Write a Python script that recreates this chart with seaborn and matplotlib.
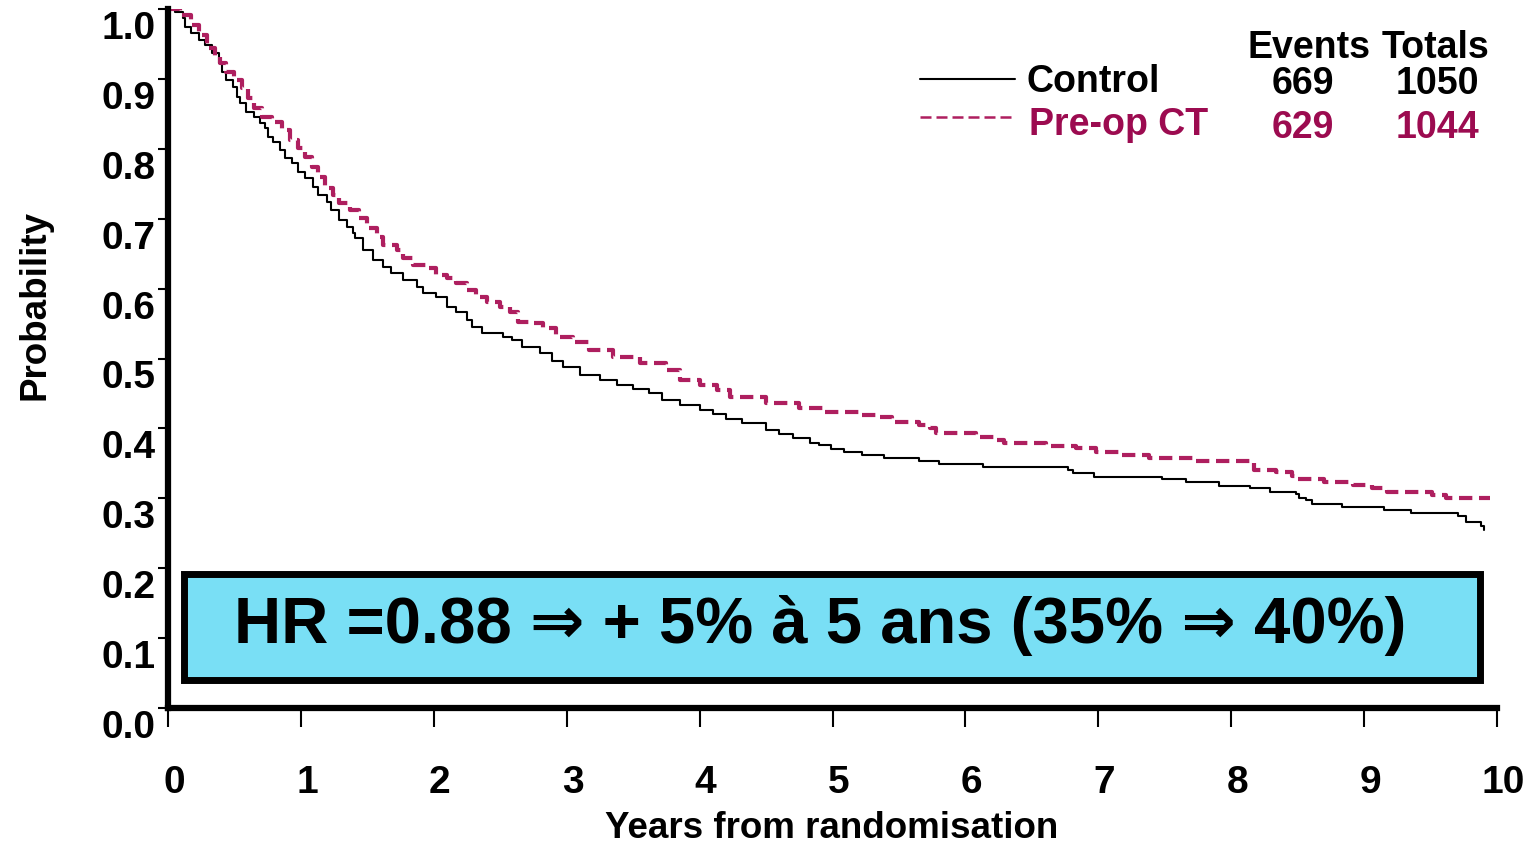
import matplotlib
matplotlib.use("Agg")
import matplotlib.pyplot as plt
import matplotlib.transforms as mtransforms
from matplotlib.patches import Rectangle
import pandas as pd
import seaborn as sns

# Kaplan-Meier estimates: time (years) and survival probability
control_t = [0.00, 0.05, 0.11, 0.13, 0.17, 0.23, 0.28, 0.33, 0.38, 0.41, 0.44, 0.49,
             0.52, 0.54, 0.59, 0.65, 0.69, 0.73, 0.75, 0.79, 0.84, 0.88, 0.93, 0.98,
             1.03, 1.09, 1.13, 1.20, 1.23, 1.29, 1.35, 1.39, 1.41, 1.47, 1.54, 1.62,
             1.68, 1.77, 1.87, 1.92, 2.02, 2.10, 2.17, 2.25, 2.29, 2.36, 2.52, 2.59,
             2.66, 2.80, 2.89, 2.97, 3.10, 3.25, 3.38, 3.50, 3.62, 3.72, 3.85, 4.00,
             4.10, 4.20, 4.32, 4.50, 4.60, 4.70, 4.83, 4.90, 4.99, 5.09, 5.22, 5.39,
             5.65, 5.80, 6.13, 6.77, 6.81, 6.97, 7.48, 7.66, 7.91, 8.14, 8.29, 8.49,
             8.51, 8.56, 8.61, 8.83, 9.15, 9.35, 9.71, 9.77, 9.88, 9.90]
control_s = [1.000, 0.996, 0.987, 0.974, 0.966, 0.956, 0.949, 0.937, 0.923, 0.910, 0.898, 0.888,
             0.874, 0.865, 0.853, 0.846, 0.837, 0.830, 0.817, 0.810, 0.798, 0.787, 0.780, 0.767,
             0.758, 0.745, 0.734, 0.724, 0.712, 0.698, 0.688, 0.680, 0.672, 0.655, 0.641, 0.631,
             0.622, 0.612, 0.602, 0.594, 0.588, 0.574, 0.567, 0.555, 0.545, 0.536, 0.531, 0.526,
             0.516, 0.508, 0.497, 0.488, 0.476, 0.469, 0.462, 0.456, 0.450, 0.441, 0.434, 0.426,
             0.420, 0.414, 0.408, 0.398, 0.392, 0.386, 0.379, 0.376, 0.371, 0.366, 0.362, 0.358,
             0.353, 0.349, 0.345, 0.341, 0.336, 0.331, 0.327, 0.323, 0.318, 0.315, 0.309, 0.306,
             0.300, 0.298, 0.292, 0.288, 0.283, 0.279, 0.275, 0.266, 0.260, 0.255]

preop_t = [0.00, 0.09, 0.17, 0.23, 0.29, 0.35, 0.39, 0.44, 0.50, 0.56, 0.60, 0.65,
           0.71, 0.78, 0.86, 0.92, 0.98, 1.03, 1.08, 1.13, 1.18, 1.24, 1.29, 1.37,
           1.44, 1.50, 1.57, 1.62, 1.72, 1.77, 1.84, 1.95, 2.02, 2.10, 2.17, 2.25,
           2.32, 2.40, 2.50, 2.57, 2.63, 2.74, 2.82, 2.92, 3.05, 3.17, 3.35, 3.55,
           3.75, 3.85, 4.00, 4.13, 4.23, 4.50, 4.75, 4.93, 5.20, 5.35, 5.45, 5.65,
           5.73, 5.78, 6.08, 6.23, 6.29, 6.61, 6.83, 6.98, 7.18, 7.38, 7.71, 8.17,
           8.34, 8.46, 8.49, 8.70, 8.92, 9.06, 9.17, 9.51, 9.62, 9.95]
preop_s = [1.000, 0.991, 0.977, 0.963, 0.944, 0.931, 0.923, 0.910, 0.898, 0.887, 0.873, 0.858,
           0.846, 0.838, 0.827, 0.813, 0.801, 0.788, 0.774, 0.760, 0.744, 0.734, 0.722, 0.712,
           0.701, 0.687, 0.674, 0.662, 0.655, 0.644, 0.634, 0.629, 0.619, 0.615, 0.608, 0.598,
           0.588, 0.581, 0.574, 0.567, 0.552, 0.551, 0.544, 0.531, 0.524, 0.512, 0.502, 0.494,
           0.484, 0.469, 0.462, 0.455, 0.445, 0.436, 0.429, 0.423, 0.419, 0.416, 0.409, 0.405,
           0.400, 0.393, 0.388, 0.383, 0.379, 0.375, 0.372, 0.366, 0.362, 0.358, 0.353, 0.340,
           0.337, 0.332, 0.328, 0.323, 0.319, 0.315, 0.309, 0.305, 0.300, 0.300]

groups = ["Control", "Pre-op CT"]
events = [669, 629]
totals = [1050, 1044]

x_ticks = list(range(0, 11))
y_ticks = [0.0, 0.1, 0.2, 0.3, 0.4, 0.5, 0.6, 0.7, 0.8, 0.9, 1.0]

hr_text = "HR =0.88 \u21d2 + 5% \u00e0 5 ans (35% \u21d2 40%)"

BLACK = "#000000"
MAGENTA_LINE = "#AE1F5F"
MAGENTA_TEXT = "#9C0B50"
BOX_FILL = "#79DFF5"

sns.set_theme(style="white")
plt.rcParams["font.family"] = ["Liberation Sans", "DejaVu Sans"]
plt.rcParams["font.weight"] = "bold"

DPI = 100
fig = plt.figure(figsize=(15.26, 8.43), dpi=DPI)
ax = fig.add_axes([168 / 1526, 135 / 843, 1329 / 1526, 699 / 843])

df_c = pd.DataFrame({"t": control_t, "S": control_s})
df_p = pd.DataFrame({"t": preop_t, "S": preop_s})

sns.lineplot(data=df_c, x="t", y="S", ax=ax, color=BLACK, lw=1.5,
             drawstyle="steps-post", estimator=None, sort=False)
sns.lineplot(data=df_p, x="t", y="S", ax=ax, color=MAGENTA_LINE, lw=3.0,
             linestyle=(0, (3.2, 1.6)), drawstyle="steps-post",
             estimator=None, sort=False)

ax.set_xlim(0, 10)
ax.set_ylim(0, 1)
ax.set_xticks(x_ticks)
ax.set_yticks(y_ticks)
ax.set_xticklabels([str(v) for v in x_ticks])
ax.set_yticklabels([f"{v:.1f}" for v in y_ticks])

for side in ["top", "right"]:
    ax.spines[side].set_visible(False)
for side in ["left", "bottom"]:
    ax.spines[side].set_linewidth(4.5)
    ax.spines[side].set_color(BLACK)

ax.tick_params(axis="y", which="major", direction="out", length=7, width=1.5,
               color=BLACK, pad=2, labelsize=28, labelcolor=BLACK, left=True)
ax.tick_params(axis="x", which="major", direction="out", length=14, width=1.5,
               color=BLACK, pad=27, labelsize=28, labelcolor=BLACK, bottom=True)
for lab in ax.get_xticklabels() + ax.get_yticklabels():
    lab.set_fontweight("bold")

# nudge tick labels: y labels sit a little below their ticks, x labels slightly right
y_off = mtransforms.ScaledTranslation(0, -16 / DPI, fig.dpi_scale_trans)
x_off = mtransforms.ScaledTranslation(6 / DPI, 0, fig.dpi_scale_trans)
for lab in ax.get_yticklabels():
    lab.set_transform(lab.get_transform() + y_off)
for lab in ax.get_xticklabels():
    lab.set_transform(lab.get_transform() + x_off)

ax.set_xlabel("Years from randomisation", fontsize=26.5, fontweight="bold",
              color=BLACK, va="center", ha="center")
ax.xaxis.set_label_coords(0.4996, -0.172)
ax.set_ylabel("Probability", fontsize=26.5, fontweight="bold", color=BLACK,
              va="center", ha="center", rotation=90)
ax.yaxis.set_label_coords(-0.100, 0.5765)


def fx(px):
    return (px - 168) / 1329


def fy(py):
    return (708 - py) / 699


# legend block with counts
ax.plot([fx(920), fx(1015)], [fy(79), fy(79)], transform=ax.transAxes,
        color=BLACK, lw=1.5, clip_on=False)
ax.plot([fx(920), fx(1012)], [fy(117), fy(117)], transform=ax.transAxes,
        color=MAGENTA_LINE, lw=1.8, linestyle=(0, (4.4, 2.0)), clip_on=False)

label_colors = [BLACK, MAGENTA_TEXT]
label_x = [1026, 1029]
row_y = [82, 125]
count_y = [84, 128]
for name, ev, tot, col, lx, ry, cy in zip(groups, events, totals, label_colors,
                                         label_x, row_y, count_y):
    ax.text(fx(lx), fy(ry), name, transform=ax.transAxes, ha="left", va="center",
            fontsize=27, fontweight="bold", color=col)
    ax.text(fx(1303), fy(cy), str(ev), transform=ax.transAxes, ha="center",
            va="center", fontsize=27, fontweight="bold", color=col)
    ax.text(fx(1437), fy(cy), str(tot), transform=ax.transAxes, ha="center",
            va="center", fontsize=27, fontweight="bold", color=col)

ax.text(fx(1309), fy(48), "Events", transform=ax.transAxes, ha="center",
        va="center", fontsize=27, fontweight="bold", color=BLACK)
ax.text(fx(1435), fy(48), "Totals", transform=ax.transAxes, ha="center",
        va="center", fontsize=27, fontweight="bold", color=BLACK)

# hazard-ratio summary box
box = Rectangle((fx(183.5), fy(679.5)), fx(1479.5) - fx(183.5), fy(573.5) - fy(679.5),
                transform=ax.transAxes, facecolor=BOX_FILL, edgecolor=BLACK,
                lw=5, zorder=5, clip_on=False)
ax.add_patch(box)
ax.text(fx(820), fy(625), hr_text, transform=ax.transAxes, ha="center",
        va="center", fontsize=47, fontweight="bold", color=BLACK, zorder=6)

fig.savefig("out.png", dpi=DPI, facecolor="white")
